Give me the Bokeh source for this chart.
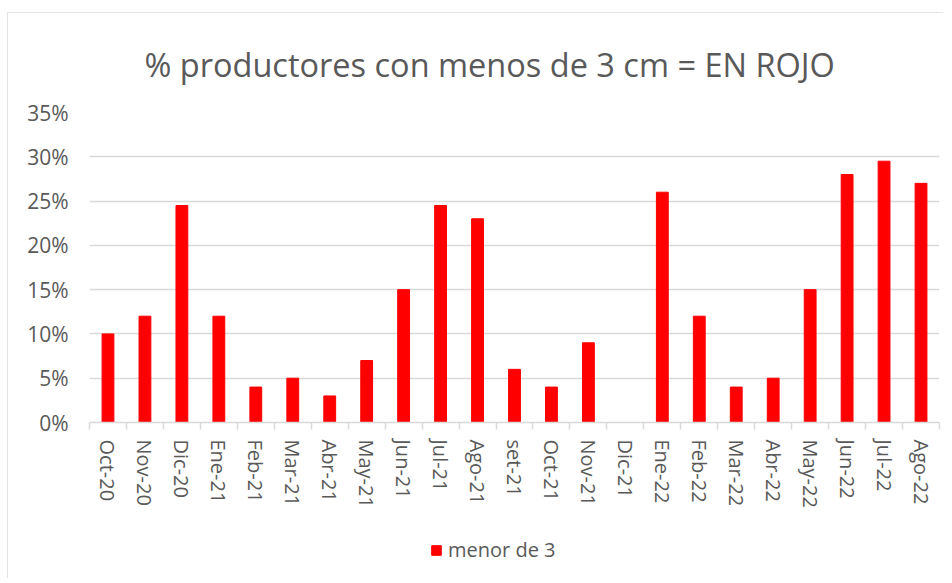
from bokeh.plotting import figure
from bokeh.layouts import column
from bokeh.models import ColumnDataSource, FixedTicker, NumeralTickFormatter, Legend, LegendItem, Range1d
from bokeh.embed import file_html
from bokeh.resources import INLINE

months = ["Oct-20", "Nov-20", "Dic-20", "Ene-21", "Feb-21", "Mar-21", "Abr-21", "May-21",
          "Jun-21", "Jul-21", "Ago-21", "set-21", "Oct-21", "Nov-21", "Dic-21", "Ene-22",
          "Feb-22", "Mar-22", "Abr-22", "May-22", "Jun-22", "Jul-22", "Ago-22"]
values = [0.10, 0.12, 0.245, 0.12, 0.04, 0.05, 0.03, 0.07, 0.15, 0.245, 0.23, 0.06, 0.04,
          0.09, 0.0, 0.26, 0.12, 0.04, 0.05, 0.15, 0.28, 0.295, 0.27]
y_ticks = [0, 0.05, 0.10, 0.15, 0.20, 0.25, 0.30, 0.35]
series_name = "menor de 3"
title_text = "% productores con menos de 3 cm = EN ROJO"

FONT = "Open Sans"
GREY = "#595959"
n = len(months)
xs = list(range(n))
src = ColumnDataSource(dict(x=xs, top=values, label=months))

p = figure(width=935, height=505, output_backend="svg", toolbar_location=None,
           x_range=Range1d(-0.5, n - 0.5), y_range=Range1d(0, 0.35),
           min_border_left=81, min_border_right=4, min_border_top=98, min_border_bottom=96,
           title=title_text)
p.outline_line_color = None
p.title.align = "left"
p.title.offset = 55
p.title.text_font = FONT
p.title.text_font_size = "32.5px"
p.title.text_font_style = "normal"
p.title.text_color = GREY
p.title.standoff = 52

r = p.vbar(x="x", top="top", width=0.32, source=src, fill_color="#FF0000", line_color="#FF0000")

# y axis
p.yaxis.ticker = FixedTicker(ticks=y_ticks)
p.yaxis.formatter = NumeralTickFormatter(format="0%")
p.yaxis.axis_line_color = None
p.yaxis.major_tick_line_color = None
p.yaxis.minor_tick_line_color = None
p.yaxis.major_tick_out = 0
p.yaxis.major_label_standoff = 21
p.yaxis.major_label_text_font = FONT
p.yaxis.major_label_text_font_size = "21px"
p.yaxis.major_label_text_color = GREY

# x axis
p.xaxis.ticker = FixedTicker(ticks=xs, minor_ticks=[i - 0.5 for i in range(n + 1)])
p.xaxis.major_label_overrides = {i: m for i, m in enumerate(months)}
p.xaxis.major_label_orientation = "vertical"
p.xaxis.axis_line_color = "#d9d9d9"
p.xaxis.axis_line_width = 1.5
p.xaxis.major_tick_line_color = None
p.xaxis.major_tick_out = 0
p.xaxis.minor_tick_line_color = "#d9d9d9"
p.xaxis.minor_tick_line_width = 1.5
p.xaxis.minor_tick_out = 7
p.xaxis.minor_tick_in = 0
p.xaxis.major_label_standoff = 10
p.xaxis.major_label_text_font = FONT
p.xaxis.major_label_text_font_size = "20px"
p.xaxis.major_label_text_color = GREY

p.xgrid.grid_line_color = None
p.ygrid.grid_line_color = "#d9d9d9"
p.ygrid.grid_line_width = 1.5

# legend strip below the chart (series drawn out of view, only its legend entry shows)
p2 = figure(width=935, height=60, output_backend="svg", toolbar_location=None,
            x_range=Range1d(-0.5, n - 0.5), y_range=Range1d(1, 2),
            min_border_left=0, min_border_right=0, min_border_top=0, min_border_bottom=0)
p2.outline_line_color = None
p2.axis.visible = False
p2.grid.visible = False
r2 = p2.vbar(x="x", top="top", width=0.32, source=src, fill_color="#FF0000", line_color="#FF0000")
legend = Legend(items=[LegendItem(label=series_name, renderers=[r2])],
                location=(341, 15), orientation="horizontal",
                border_line_color=None, background_fill_alpha=0,
                padding=0, margin=0, glyph_width=12, glyph_height=12,
                label_standoff=6, label_text_font=FONT, label_text_font_size="20px",
                label_text_color=GREY)
p2.add_layout(legend, "center")

layout = column(p, p2, spacing=0, margin=(12, 0, 0, 7),
                styles={"border-top": "1px solid #e4e4e4", "border-left": "1px solid #e4e4e4"})

open("out.html", "w").write(file_html(layout, INLINE))
